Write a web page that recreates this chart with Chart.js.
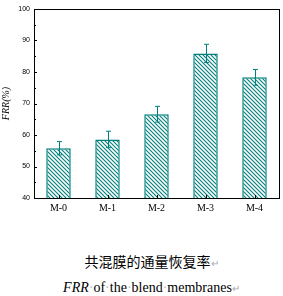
<!DOCTYPE html>
<html>
<head>
<meta charset="utf-8">
<script src="https://cdn.jsdelivr.net/npm/chart.js@4"></script>
<style>
  html, body { margin: 0; padding: 0; background: #fff; }
  #wrap { width: 283px; height: 296px; position: relative; }
  .cap { position: absolute; left: 0; width: 283px; text-align: center; color: #000; }
  .mark { color: #aaa; font-size: 10px; }
  .dot { color: #bbb; }
</style>
</head>
<body>
<div id="wrap">
  <canvas id="myChart" width="283" height="215"></canvas>
  <div class="cap" style="top:251px;left:10px;font-family:'Noto Sans CJK SC';font-size:14px;">共混膜的通量恢复率<span class="mark">↵</span></div>
  <div class="cap" style="top:280px;left:10px;font-family:'Liberation Serif';font-size:14px;"><i>FRR</i><span class="dot">·</span>of<span class="dot">·</span>the<span class="dot">·</span>blend<span class="dot">·</span>membranes<span class="mark">↵</span></div>
</div>
<script>
const categories = ['M-0', 'M-1', 'M-2', 'M-3', 'M-4'];
const frrValues = [55.8, 58.6, 66.6, 85.9, 78.3];
const frrErrors = [2.1, 2.6, 2.5, 2.9, 2.5];
const yTicks = [40, 50, 60, 70, 80, 90, 100];

const teal = '#00807c';

function makeHatch() {
    const c = document.createElement('canvas');
    c.width = 4; c.height = 4;
    const g = c.getContext('2d');
    g.fillStyle = '#fff';
    g.fillRect(0, 0, 4, 4);
    g.strokeStyle = teal;
    g.lineWidth = 1.1;
    g.beginPath();
    g.moveTo(-1, -1); g.lineTo(5, 5);
    g.moveTo(-1, 3); g.lineTo(1, 5);
    g.moveTo(3, -1); g.lineTo(5, 1);
    g.stroke();
    return g.createPattern(c, 'repeat');
}

// frame, inward ticks, error bars
const extras = {
    id: 'extras',
    afterDatasetsDraw(chart) {
        const ctx = chart.ctx;
        const a = chart.chartArea;
        const y = chart.scales.y;
        const x = chart.scales.x;
        ctx.save();
        // error bars
        ctx.strokeStyle = teal;
        ctx.lineWidth = 1;
        chart.getDatasetMeta(0).data.forEach((bar, i) => {
            const px = Math.round(bar.x) + 0.5;
            const top = y.getPixelForValue(frrValues[i] + frrErrors[i]);
            const bot = y.getPixelForValue(frrValues[i] - frrErrors[i]);
            ctx.beginPath();
            ctx.moveTo(px, top); ctx.lineTo(px, bot);
            ctx.moveTo(px - 2.5, top); ctx.lineTo(px + 2.5, top);
            ctx.moveTo(px - 2.5, bot); ctx.lineTo(px + 2.5, bot);
            ctx.stroke();
        });
        // frame
        ctx.strokeStyle = '#000';
        ctx.lineWidth = 1;
        ctx.strokeRect(Math.round(a.left) + 0.5, Math.round(a.top) + 0.5,
            Math.round(a.right - a.left), Math.round(a.bottom - a.top));
        // y ticks (inward)
        ctx.beginPath();
        for (let v = 40; v <= 100; v += 5) {
            const py = Math.round(y.getPixelForValue(v)) + 0.5;
            const len = v % 10 === 0 ? 3 : 2;
            ctx.moveTo(a.left, py); ctx.lineTo(a.left + len, py);
        }
        // x ticks (inward)
        categories.forEach((c, i) => {
            const px = Math.round(x.getPixelForValue(i)) + 0.5;
            ctx.moveTo(px, a.bottom); ctx.lineTo(px, a.bottom - 3);
        });
        ctx.stroke();
        ctx.restore();
    }
};

new Chart(document.getElementById('myChart').getContext('2d'), {
    type: 'bar',
    data: {
        labels: categories,
        datasets: [{
            data: frrValues,
            backgroundColor: makeHatch(),
            borderColor: teal,
            borderWidth: 1.5,
            borderSkipped: false,
            barPercentage: 0.5,
            categoryPercentage: 1
        }]
    },
    options: {
        responsive: false,
        animation: false,
        layout: { padding: { top: 9, right: 4, left: 0, bottom: 0 } },
        plugins: { legend: { display: false }, tooltip: { enabled: false } },
        scales: {
            x: {
                grid: { display: false, drawTicks: false },
                border: { display: false },
                ticks: {
                    color: '#000',
                    padding: 4,
                    font: { family: 'Liberation Serif', size: 10 }
                },
                afterFit(s) { s.height = 17; }
            },
            y: {
                min: 40,
                max: 100,
                afterBuildTicks(s) { s.ticks = yTicks.map(v => ({ value: v })); },
                grid: { display: false, drawTicks: false },
                border: { display: false },
                ticks: {
                    color: '#000',
                    padding: 4,
                    font: { family: 'Liberation Sans', size: 7 }
                },
                title: {
                    display: true,
                    text: 'FRR(%)',
                    color: '#000',
                    padding: { top: 0, bottom: 2 },
                    font: { family: 'Liberation Serif', size: 10, style: 'italic' }
                },
                afterFit(s) { s.width = 34; }
            }
        }
    },
    plugins: [extras]
});
</script>
</body>
</html>
